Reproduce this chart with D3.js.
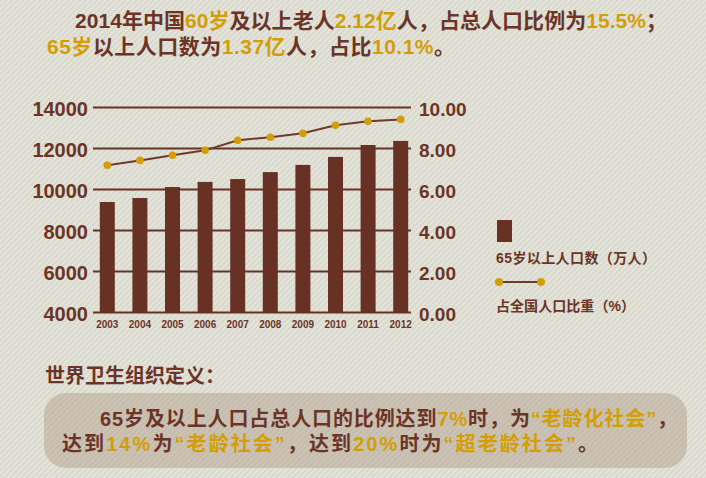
<!DOCTYPE html>
<html><head><meta charset="utf-8">
<script src="https://cdn.jsdelivr.net/npm/d3@7/dist/d3.min.js"></script>
<style>
html,body{margin:0;padding:0;background:#e4e3d8;}
svg{display:block;}
text{font-family:"Liberation Sans",Arial,"Noto Sans CJK SC",sans-serif;font-weight:bold;}
</style></head>
<body><div id="chart"></div>
<script>
const years = ["2003","2004","2005","2006","2007","2008","2009","2010","2011","2012"];
const pop65 = [9390, 9585, 10120, 10370, 10510, 10850, 11200, 11590, 12170, 12370];
const share = [7.18, 7.42, 7.67, 7.91, 8.40, 8.55, 8.74, 9.13, 9.33, 9.42];
const leftTicks = [4000, 6000, 8000, 10000, 12000, 14000];
const rightTicks = [0, 2, 4, 6, 8, 10];
const legendLabels = ["65岁以上人口数（万人）", "占全国人口比重（%）"];
const titleLine1 = [["2014年中国", 0], ["60岁", 1], ["及以上老人", 0], ["2.12亿", 1], ["人，占总人口比例为", 0], ["15.5%", 1], ["；", 0]];
const titleLine2 = [["65岁", 1], ["以上人口数为", 0], ["1.37亿", 1], ["人，占比", 0], ["10.1%", 1], ["。", 0]];
const defTitle = "世界卫生组织定义：";
const defLine1 = [["65岁及以上人口占总人口的比例达到", 0], ["7%", 1], ["时，为", 0], ["“老龄化社会”", 1], ["，", 0]];
const defLine2 = [["达到", 0], ["14%", 1], ["为", 0], ["“老龄社会”", 1], ["，达到", 0], ["20%", 1], ["时为", 0], ["“超老龄社会”", 1], ["。", 0]];

const W = 706, H = 478;
const BROWN = "#673224", GOLD = "#d39e05", TXT = "#6b3426";
const svg = d3.select("#chart").append("svg").attr("width", W).attr("height", H);

const defs = svg.append("defs");
const pat = defs.append("pattern").attr("id", "stripes").attr("width", 4).attr("height", 4)
  .attr("patternUnits", "userSpaceOnUse").attr("patternTransform", "rotate(45)");
pat.append("rect").attr("width", 4).attr("height", 4).attr("fill", "#e5e4da");
pat.append("rect").attr("width", 1.5).attr("height", 4).attr("fill", "#d5d4c8");
svg.append("rect").attr("width", W).attr("height", H).attr("fill", "url(#stripes)");

// stretch a text to a target width using letter-spacing (shrinks the font if it is too wide)
function fitWidth(t, len) {
  const node = t.node();
  let natural = node.getComputedTextLength();
  if (natural > len) {
    const fs = parseFloat(t.attr("font-size")) * len / natural;
    t.attr("font-size", fs.toFixed(2));
    natural = node.getComputedTextLength();
  }
  const n = node.textContent.length;
  if (n > 1 && len > natural) t.attr("letter-spacing", ((len - natural) / (n - 1)).toFixed(3));
}

function richText(parent, x, y, parts, size, len) {
  const t = parent.append("text").attr("x", x).attr("y", y).attr("font-size", size);
  parts.forEach(p => t.append("tspan").text(p[0]).attr("fill", p[1] ? GOLD : TXT));
  if (len) fitWidth(t, len);
  return t;
}
richText(svg, 75, 28, titleLine1, 21, 592);
richText(svg, 47, 54, titleLine2, 21, 408);

const x = d3.scaleBand().domain(years).range([91, 417]).paddingInner(0.54).paddingOuter(0.27);
const yL = d3.scaleLinear().domain([4000, 14000]).range([312.5, 107.5]);
const yR = d3.scaleLinear().domain([0, 10]).range([312.5, 107.5]);

// gridlines
svg.append("g").selectAll("line").data(leftTicks).join("line")
  .attr("x1", 93).attr("x2", 411).attr("y1", d => yL(d)).attr("y2", d => yL(d))
  .attr("stroke", BROWN).attr("stroke-width", 2);

// left axis labels
const axL = svg.append("g").attr("transform", "translate(92,0)")
  .call(d3.axisLeft(yL).tickValues(leftTicks).tickSize(0).tickPadding(4).tickFormat(d3.format("d")));
axL.select(".domain").remove();
axL.selectAll("text").attr("fill", TXT).attr("font-size", 20).attr("dy", "0.42em")
  .style("font-family", '"Liberation Sans",Arial,sans-serif').style("font-weight", "bold");

// right axis labels
const axR = svg.append("g").attr("transform", "translate(411,0)")
  .call(d3.axisRight(yR).tickValues(rightTicks).tickSize(0).tickPadding(8).tickFormat(d3.format(".2f")));
axR.select(".domain").remove();
axR.selectAll("text").attr("fill", TXT).attr("font-size", 19).attr("dy", "0.42em")
  .style("font-family", '"Liberation Sans",Arial,sans-serif').style("font-weight", "bold");

// bars
svg.append("g").selectAll("rect").data(years).join("rect")
  .attr("x", d => x(d)).attr("width", x.bandwidth())
  .attr("y", (d, i) => yL(pop65[i])).attr("height", (d, i) => yL(4000) - yL(pop65[i]))
  .attr("fill", BROWN);

// x labels
svg.append("g").selectAll("text").data(years).join("text")
  .attr("x", d => x(d) + x.bandwidth() / 2).attr("y", 328).attr("text-anchor", "middle")
  .attr("font-size", 10).attr("fill", TXT).text(d => d);

// line
const line = d3.line().x((d, i) => x(years[i]) + x.bandwidth() / 2).y(d => yR(d));
svg.append("path").datum(share).attr("d", line).attr("fill", "none")
  .attr("stroke", "#6e3a2c").attr("stroke-width", 2);
svg.append("g").selectAll("circle").data(share).join("circle")
  .attr("cx", (d, i) => x(years[i]) + x.bandwidth() / 2).attr("cy", d => yR(d)).attr("r", 3.8)
  .attr("fill", GOLD);

// legend
const lg = svg.append("g");
lg.append("rect").attr("x", 497).attr("y", 220).attr("width", 15).attr("height", 22).attr("fill", BROWN);
const l1 = lg.append("text").attr("x", 496).attr("y", 263).attr("font-size", 14).attr("fill", TXT).text(legendLabels[0]);
fitWidth(l1, 160);
lg.append("line").attr("x1", 499).attr("x2", 541).attr("y1", 282).attr("y2", 282).attr("stroke", "#6e3a2c").attr("stroke-width", 2);
lg.selectAll("circle").data([499, 541]).join("circle").attr("cx", d => d).attr("cy", 282).attr("r", 4).attr("fill", GOLD);
const l2 = lg.append("text").attr("x", 496).attr("y", 311).attr("font-size", 14).attr("fill", TXT).text(legendLabels[1]);
fitWidth(l2, 139);

// definition
const dt = svg.append("text").attr("x", 45).attr("y", 383).attr("font-size", 20).attr("fill", TXT).text(defTitle);
fitWidth(dt, 180);
svg.append("rect").attr("x", 44).attr("y", 393).attr("width", 643).attr("height", 75).attr("rx", 22)
  .attr("fill", "#a48f7a").attr("opacity", 0.38);
richText(svg, 100, 426, defLine1, 20, 577);
richText(svg, 62, 451, defLine2, 20, 536);
</script></body></html>
